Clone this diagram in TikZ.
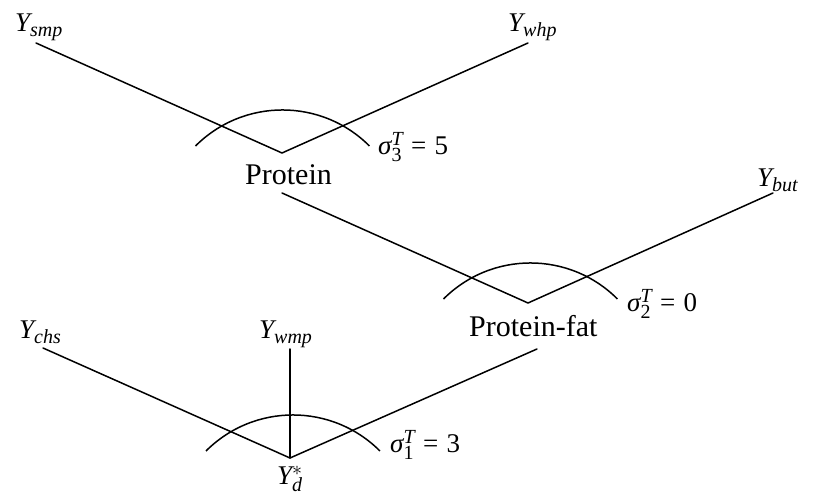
\RequirePackage{fix-cm}
\documentclass[tikz,border=0pt]{standalone}
\usepackage{fontspec}
\setmainfont{Liberation Serif}
\DeclareSymbolFont{letters}{TU}{\rmdefault}{m}{it}
\Umathchardef\mysigma="0 "1 "3C3
\DeclareMathSizes{27}{27}{20}{15}
\newcommand\eqv[1]{\hspace{0.3em}=\hspace{0.3em}#1}
\newcommand\dg[1]{\hbox{\fontsize{20}{20}\selectfont #1}}
\begin{document}
\begin{tikzpicture}[x=1pt,y=-1pt,
  link/.style={line width=1.5pt, line cap=round},
  hinge/.style={line width=1.5pt},
  lbl/.style={inner sep=0pt, anchor=base west, font=\fontsize{27}{30}\selectfont},
  txt/.style={inner sep=0pt, anchor=base west, font=\fontsize{30}{34}\selectfont}]
\useasboundingbox (0,0) rectangle (815,502);
% labels
\node[lbl] (ysmp) at (15,32) {$Y_{smp}$};
\node[lbl] (ywhp) at (508,32) {$Y_{whp}$};
\node[lbl] (ybut) at (757,187) {$Y_{but}$};
\node[lbl] (ychs) at (19,339) {$Y_{chs}$};
\node[lbl] (ywmp) at (259,339) {$Y_{wmp}$};
\node[lbl] (yd) at (277,485) {$Y_d^{*}$};
\node[txt] (prot) at (245,185) {Protein};
\node[txt] (pfat) at (469,337) {Protein-fat};
\node[lbl] (s3) at (378,155) {$\mysigma_{\dg{3}}^T$\eqv{5}};
\node[lbl] (s2) at (627,312) {$\mysigma_{\dg{2}}^T$\eqv{0}};
\node[lbl] (s1) at (390,453) {$\mysigma_{\dg{1}}^T$\eqv{3}};
% connector points
\coordinate (smpE) at (36,43);
\coordinate (whpE) at (528,43);
\coordinate (v3) at (282,153);
\coordinate (protE) at (282,193);
\coordinate (butE) at (773,193);
\coordinate (v2) at (528,303);
\coordinate (chsE) at (43,348);
\coordinate (wmpE) at (290,349);
\coordinate (v1) at (290,458);
\coordinate (pfatE) at (537,349);
\coordinate (a3) at (195.5,146);
\coordinate (a2) at (443.5,299);
\coordinate (a1) at (206,451);
% connectors
\draw[link] (smpE) -- (v3) -- (whpE);
\draw[link] (protE) -- (v2) -- (butE);
\draw[link] (chsE) -- (v1) -- (pfatE);
\draw[link] (wmpE) -- (v1);
% arcs
\draw[hinge] (a3) arc[start angle=135, end angle=45, radius=123pt];
\draw[hinge] (a2) arc[start angle=135, end angle=45, radius=123pt];
\draw[hinge] (a1) arc[start angle=135, end angle=45, radius=123pt];
\end{tikzpicture}
\end{document}
